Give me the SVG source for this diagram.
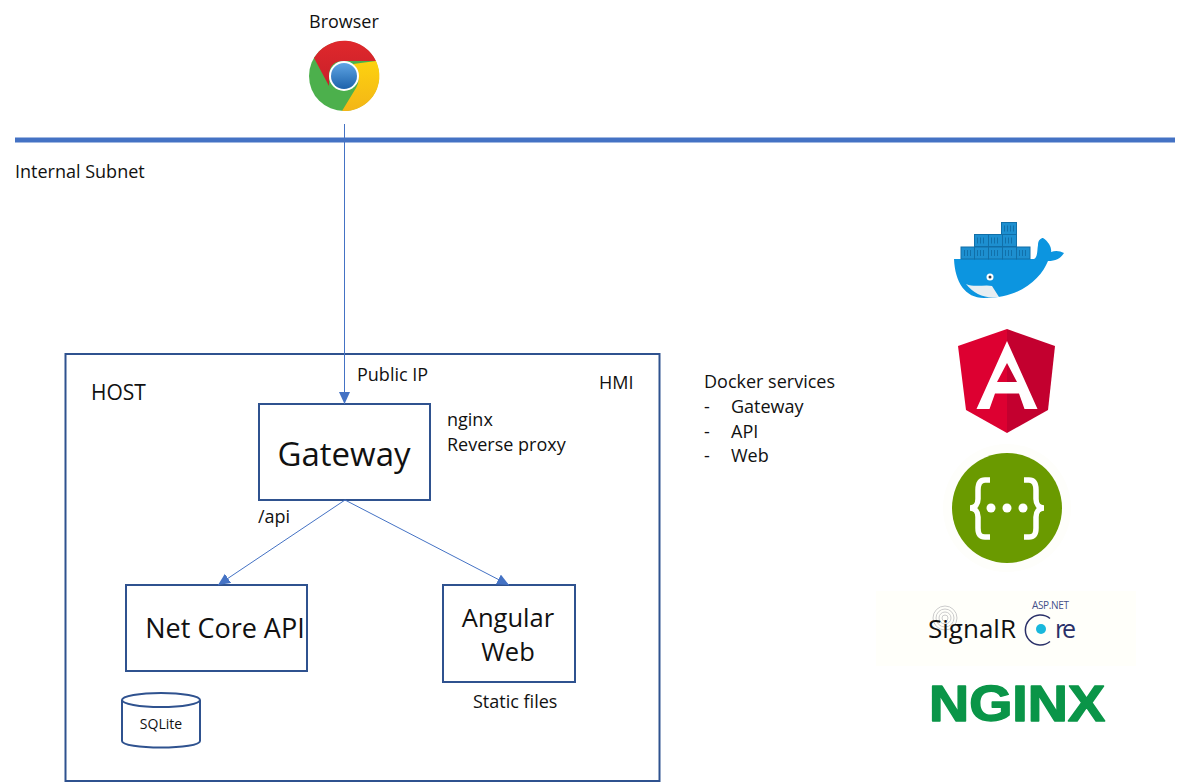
<svg xmlns="http://www.w3.org/2000/svg" width="1179" height="782" viewBox="0 0 1179 782">
<style>
text{font-family:"Open Sans","Noto Sans","DejaVu Sans",sans-serif;fill:#111}
.box{fill:#fff;stroke:#2f528f;stroke-width:2}
.t18{font-size:18px}
.conn{stroke:#4472c4;stroke-width:1;fill:none;marker-end:url(#arr)}
</style>
<defs>
<marker id="arr" markerUnits="userSpaceOnUse" markerWidth="14" markerHeight="12" refX="12" refY="5.5" orient="auto"><path d="M0 0L12 5.5L0 11Z" fill="#4472c4"/></marker>
<linearGradient id="blue" x1="0" y1="0" x2="0" y2="1"><stop offset="0" stop-color="#5fa5e4"/><stop offset="1" stop-color="#1d62ab"/></linearGradient>
<linearGradient id="yel" x1="0" y1="0" x2="0" y2="1"><stop offset="0" stop-color="#fdd20f"/><stop offset="1" stop-color="#f3b517"/></linearGradient>
<linearGradient id="red" x1="0" y1="0" x2="0" y2="1"><stop offset="0" stop-color="#e0282c"/><stop offset="1" stop-color="#c8202a"/></linearGradient>
</defs>
<rect width="1179" height="782" fill="#fff"/>
<g id="subnet"><rect x="15" y="137.500" width="1160" height="5" fill="#4472c4"/>
<text class="t18" x="15" y="178">Internal Subnet</text></g>
<g id="browser">
<text class="t18" x="309" y="28">Browser</text>
<circle cx="344" cy="76" r="35" fill="#4cb04c"/>
<path d="M314 58A35 35 0 0 1 376 61L344 61Q330 61 329 74L329 86Z" fill="url(#red)"/>
<path d="M376 61A35 35 0 0 1 342 111L356 88Q362 78 353 64Z" fill="url(#yel)"/>
<circle cx="344" cy="76" r="15" fill="#fff"/><circle cx="344" cy="76" r="13" fill="url(#blue)"/>
</g>
<g id="host"><rect class="box" x="65.500" y="354" width="594" height="427"/>
<text x="91" y="400" font-size="21">HOST</text>
<text class="t18" x="599" y="389">HMI</text>
<text class="t18" x="357" y="381">Public IP</text>
<text class="t18" x="447" y="426">nginx</text>
<text class="t18" x="447" y="451">Reverse  proxy</text>
<text class="t18" x="258" y="523">/api</text>
<text class="t18" x="473" y="708">Static files</text></g>
<g id="gateway"><rect class="box" x="259" y="404" width="171" height="96"/>
<text x="344" y="466" font-size="33" text-anchor="middle">Gateway</text></g>
<g id="netcore"><rect class="box" x="126" y="585" width="181" height="86"/>
<text x="225" y="638" font-size="27" text-anchor="middle">Net Core API</text></g>
<g id="angularweb"><rect class="box" x="443" y="585" width="132" height="97"/>
<text x="508" y="627" font-size="25.500" text-anchor="middle">Angular</text>
<text x="508" y="661" font-size="25.500" text-anchor="middle">Web</text></g>
<g id="sqlite"><path class="box" d="M122 700V741C122 745 140 747.500 161 747.500C182 747.500 200 745 200 741V700" />
<ellipse class="box" cx="161" cy="700" rx="39" ry="7"/>
<text x="161" y="729" font-size="14" text-anchor="middle">SQLite</text></g>
<g id="connectors">
<path class="conn" d="M344.500 124V404"/>
<path class="conn" d="M345 500L218 585"/>
<path class="conn" d="M345 500L509 585"/>
</g>
<g id="docker-services"><text class="t18" x="704" y="388">Docker services</text>
<text class="t18" x="704" y="413">-</text><text class="t18" x="731" y="413">Gateway</text>
<text class="t18" x="704" y="438">-</text><text class="t18" x="731" y="438">API</text>
<text class="t18" x="704" y="462">-</text><text class="t18" x="731" y="462">Web</text></g>
<g id="docker-logo">
<path d="M954 259H1034C1038 257 1037 250 1038 245C1038 240 1041 238 1043 238C1049 242 1052 248 1051 252C1056 250 1060 251 1064 253C1061 258 1056 261 1048 261C1041 278 1022 298 984 298C965 298 955 282 954 259Z" fill="#0c95e0"/>
<path d="M966 284C975 288 985 284 992 286L999 297C985 299 974 294 966 284Z" fill="#e8eef2"/>
<circle cx="990" cy="277" r="3.500" fill="#fff"/><circle cx="990" cy="277" r="1.500" fill="#345"/>
<g fill="#1d8fd0" stroke="#116fa8" stroke-width="1">
<rect x="1001.500" y="222.500" width="15" height="12"/>
<rect x="974.500" y="234.500" width="14" height="12"/><rect x="988.500" y="234.500" width="14" height="12"/><rect x="1002.500" y="234.500" width="14" height="12"/>
<rect x="961" y="247" width="13.500" height="12"/><rect x="974.500" y="247" width="14" height="12"/><rect x="988.500" y="247" width="14" height="12"/><rect x="1002.500" y="247" width="14" height="12"/><rect x="1016.500" y="247" width="13.500" height="12"/>
</g>
<g stroke="#1170aa" stroke-width="6" stroke-dasharray="1 2" fill="none">
<path d="M1004 228.500H1014M977 240.500H986M991 240.500H1000M1005 240.500H1014M964 253H972M977 253H986M991 253H1000M1005 253H1014M1019 253H1028"/>
</g></g>
<g id="angular-logo">
<path d="M1007 329L958 346L966 410L1007 433Z" fill="#dd0031"/>
<path d="M1007 329L1055 346L1048 410L1007 433Z" fill="#c3002f"/>
<path d="M1007 341L976.500 409H989.500L995 393.500H1019L1024.500 409H1037.500ZM1007 363L1017 382H997Z" fill="#fff" fill-rule="evenodd"/>
</g>
<g id="swagger-logo">
<circle cx="1007" cy="508" r="64" fill="#fefefb"/>
<circle cx="1007" cy="508" r="55" fill="#6a9a00"/>
<g fill="none" stroke="#fff" stroke-width="5.500">
<path d="M990 480H985C979 480 978 485 978 490V499C978 504 975 508 970 508C975 508 978 512 978 517V528C978 533 979 537 985 537H990"/>
<path d="M1024 480H1029C1035 480 1036 485 1036 490V499C1036 504 1039 508 1044 508C1039 508 1036 512 1036 517V528C1036 533 1035 537 1029 537H1024"/>
</g>
<circle cx="991" cy="508" r="4.500" fill="#fff"/><circle cx="1007" cy="508" r="4.500" fill="#fff"/><circle cx="1023" cy="508" r="4.500" fill="#fff"/>
</g>
<g id="signalr-logo">
<rect x="876" y="591" width="260" height="75" fill="#fffffa"/>
<g fill="none" stroke="#ccc" stroke-width="1"><circle cx="945" cy="618" r="3"/><circle cx="945" cy="618" r="6"/><circle cx="945" cy="618" r="9"/><circle cx="945" cy="618" r="12"/></g>
<text x="928" y="638" font-size="26" textLength="88" lengthAdjust="spacingAndGlyphs">SignalR</text>
<text x="1032" y="609" font-size="10" textLength="37" style="fill:#44508a">ASP.NET</text>
<path d="M1050 618.500A15 15 0 1 0 1050 641.500" fill="none" stroke="#2a3068" stroke-width="1.500"/>
<circle cx="1041" cy="629" r="5" fill="#19b8dc"/>
<text x="1055" y="638" font-size="25" textLength="21" style="fill:#2a3068">re</text>
</g>
<g id="nginx-logo">
<text x="929" y="720.500" font-size="50" font-weight="700" textLength="176" lengthAdjust="spacingAndGlyphs" stroke="#0a9548" stroke-width="1.500" stroke-linejoin="round" style="font-family:'Liberation Sans',sans-serif;fill:#0a9548">NGINX</text>
</g>
</svg>
